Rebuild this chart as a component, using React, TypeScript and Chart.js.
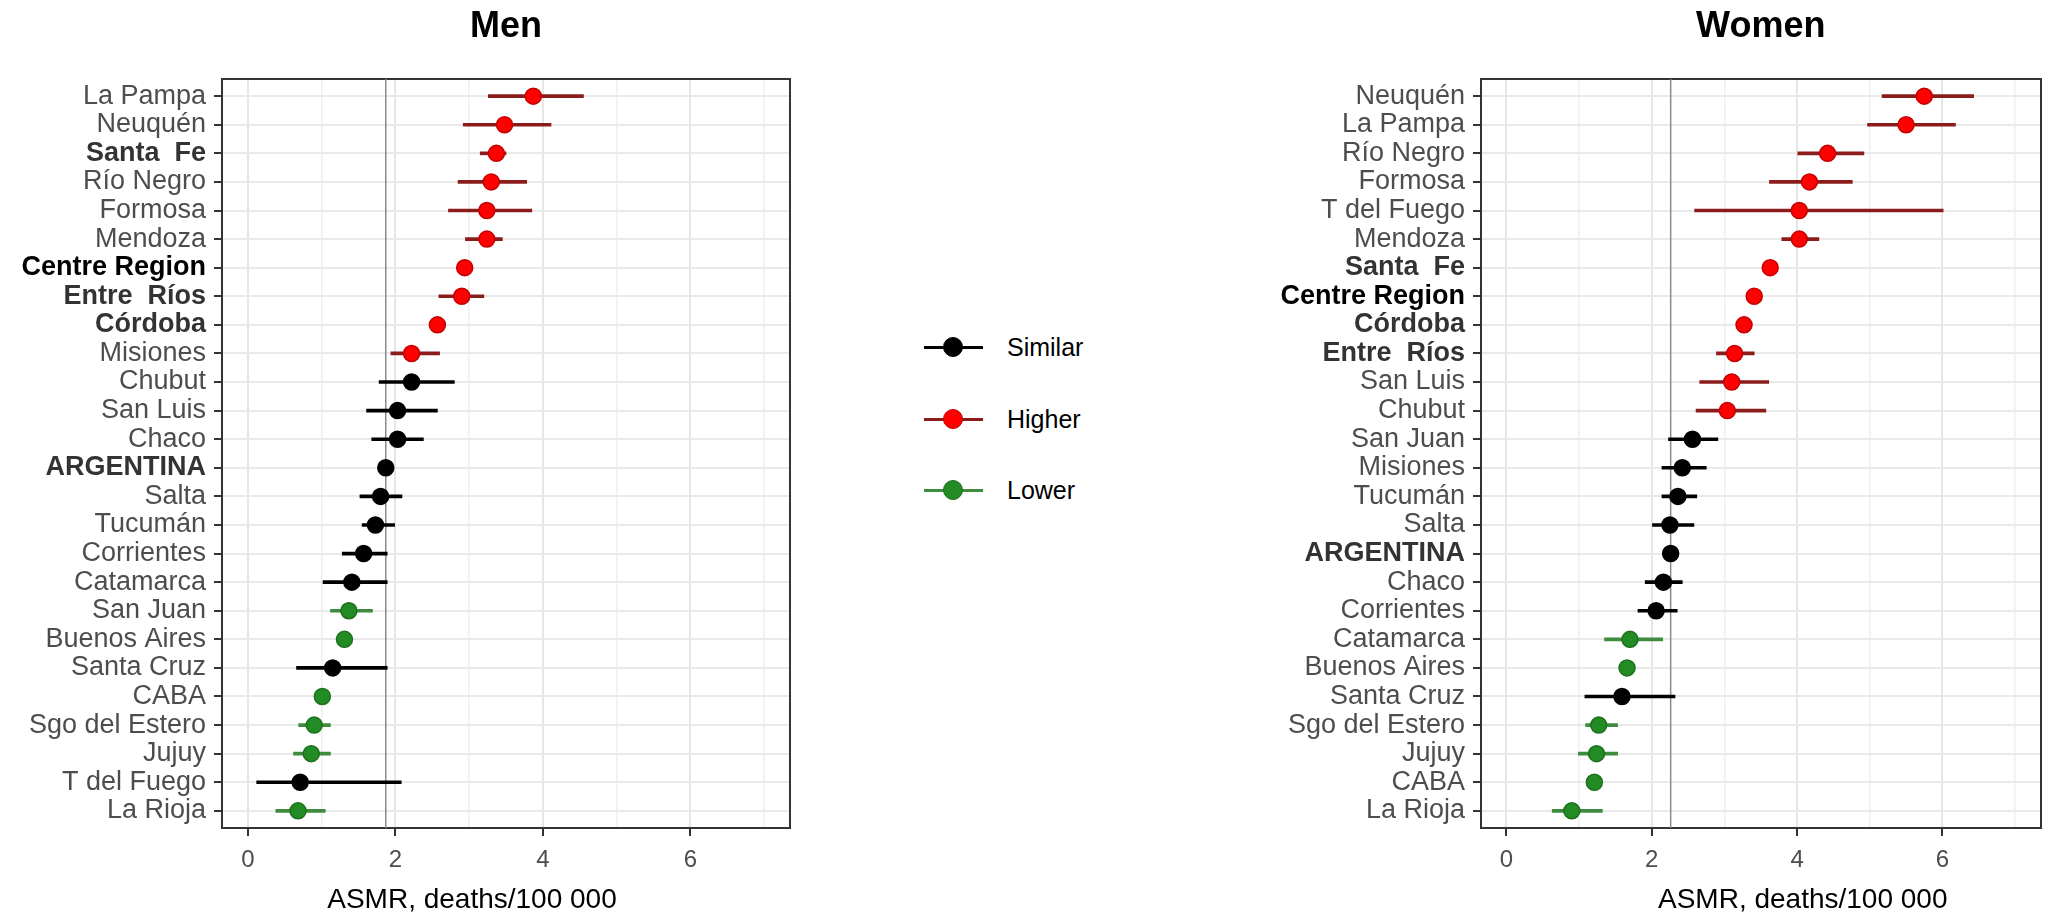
import { useEffect, useRef } from "react";
import { Chart, registerables, ChartConfiguration, Plugin } from "chart.js";

Chart.register(...registerables);

const FONT = '"Liberation Sans", Arial, Helvetica, sans-serif';

// ---- Men (top to bottom) ----
const menLabels = [
  "La Pampa", "Neuquén", "Santa  Fe", "Río Negro", "Formosa", "Mendoza",
  "Centre Region", "Entre  Ríos", "Córdoba", "Misiones", "Chubut", "San Luis",
  "Chaco", "ARGENTINA", "Salta", "Tucumán", "Corrientes", "Catamarca",
  "San Juan", "Buenos Aires", "Santa Cruz", "CABA", "Sgo del Estero", "Jujuy",
  "T del Fuego", "La Rioja",
];
const menValues = [
  3.87, 3.48, 3.37, 3.30, 3.24, 3.24, 2.94, 2.90, 2.57, 2.22, 2.22, 2.03, 2.03,
  1.87, 1.80, 1.73, 1.57, 1.41, 1.37, 1.31, 1.15, 1.01, 0.90, 0.86, 0.71, 0.68,
];
const menLower = [
  3.26, 2.92, 3.15, 2.85, 2.72, 2.95, 2.86, 2.59, 2.49, 1.94, 1.78, 1.61, 1.68,
  1.83, 1.52, 1.55, 1.28, 1.02, 1.12, 1.26, 0.66, 0.94, 0.69, 0.62, 0.12, 0.38,
];
const menUpper = [
  4.55, 4.11, 3.50, 3.78, 3.85, 3.45, 3.02, 3.20, 2.65, 2.60, 2.80, 2.57, 2.38,
  1.91, 2.09, 1.99, 1.89, 1.89, 1.69, 1.36, 1.89, 1.08, 1.12, 1.12, 2.08, 1.05,
];
const menStatus = [
  "H", "H", "H", "H", "H", "H", "H", "H", "H", "H", "S", "S", "S",
  "S", "S", "S", "S", "S", "L", "L", "S", "L", "L", "L", "S", "L",
];
const menReference = 1.87;

// ---- Women (top to bottom) ----
const womenLabels = [
  "Neuquén", "La Pampa", "Río Negro", "Formosa", "T del Fuego", "Mendoza",
  "Santa  Fe", "Centre Region", "Córdoba", "Entre  Ríos", "San Luis", "Chubut",
  "San Juan", "Misiones", "Tucumán", "Salta", "ARGENTINA", "Chaco",
  "Corrientes", "Catamarca", "Buenos Aires", "Santa Cruz", "Sgo del Estero",
  "Jujuy", "CABA", "La Rioja",
];
const womenValues = [
  5.75, 5.50, 4.42, 4.17, 4.03, 4.03, 3.63, 3.41, 3.27, 3.14, 3.10, 3.04, 2.56,
  2.42, 2.36, 2.25, 2.26, 2.16, 2.06, 1.70, 1.66, 1.59, 1.27, 1.24, 1.21, 0.90,
];
const womenLower = [
  5.17, 4.97, 4.01, 3.62, 2.59, 3.79, 3.56, 3.35, 3.20, 2.89, 2.66, 2.61, 2.23,
  2.14, 2.14, 2.01, 2.22, 1.91, 1.81, 1.35, 1.62, 1.08, 1.09, 0.99, 1.16, 0.63,
];
const womenUpper = [
  6.43, 6.18, 4.92, 4.76, 6.01, 4.30, 3.71, 3.47, 3.35, 3.41, 3.61, 3.57, 2.91,
  2.75, 2.62, 2.58, 2.30, 2.42, 2.35, 2.15, 1.70, 2.32, 1.53, 1.53, 1.26, 1.32,
];
const womenStatus = [
  "H", "H", "H", "H", "H", "H", "H", "H", "H", "H", "H", "H", "S",
  "S", "S", "S", "S", "S", "S", "L", "L", "S", "L", "L", "L", "L",
];
const womenReference = 2.26;

// ---- axes ----
const xGridValues = [0, 1, 2, 3, 4, 5, 6, 7];
const xTickLabels = ["0", "", "2", "", "4", "", "6", ""];
const xTitle = "ASMR, deaths/100 000";
const boldLabels = ["Santa  Fe", "Entre  Ríos", "Córdoba", "ARGENTINA", "Centre Region"];

// ---- legend ----
const legendKeys = ["S", "H", "L"];
const legendNames = ["Similar", "Higher", "Lower"];

const DOT: Record<string, string> = { S: "#000000", H: "#ff0000", L: "#238b23" };
const EDGE: Record<string, string> = { S: "#000000", H: "#c40000", L: "#1d701d" };
const BAR: Record<string, string> = { S: "#000000", H: "#8b1c1c", L: "#3f8c3f" };

const X_MIN = -0.35;
const X_MAX = 7.35;

// ggplot-like axis title, nudged relative to the panel centre
const xTitlePlugin: Plugin = {
  id: "xTitle",
  afterDraw(chart, _args, opts: any) {
    const { ctx, chartArea } = chart;
    ctx.save();
    ctx.font = `28px ${FONT}`;
    ctx.fillStyle = "#000";
    ctx.textAlign = "center";
    ctx.textBaseline = "middle";
    ctx.fillText(opts.text, (chartArea.left + chartArea.right) / 2 + opts.dx, opts.y);
    ctx.restore();
  },
};

interface PanelProps {
  title: string;
  labels: string[];
  values: number[];
  lower: number[];
  upper: number[];
  status: string[];
  reference: number;
  yAxisWidth: number;
  padRight: number;
  titleShift: number;
}

function ForestPanel(props: PanelProps) {
  const canvasRef = useRef<HTMLCanvasElement>(null);

  useEffect(() => {
    if (!canvasRef.current) return;
    const { labels, values, lower, upper, status, reference } = props;
    const yMin = -0.6;
    const yMax = labels.length - 0.4;

    const config: ChartConfiguration = {
      type: "bar",
      data: {
        datasets: [
          {
            type: "line",
            label: "ASMR",
            data: values.map((v, i) => ({ x: v, y: i })),
            showLine: false,
            pointRadius: 8,
            pointHoverRadius: 8,
            pointBorderWidth: 1.5,
            pointBackgroundColor: status.map((s) => DOT[s]),
            pointBorderColor: status.map((s) => EDGE[s]),
          } as any,
          {
            type: "bar",
            label: "95% CI",
            data: lower.map((lo, i) => ({ x: [lo, upper[i]], y: i })),
            backgroundColor: status.map((s) => BAR[s]),
            borderWidth: 0,
            barThickness: 3,
          } as any,
          {
            type: "line",
            label: "Argentina",
            data: [
              { x: reference, y: yMin },
              { x: reference, y: yMax },
            ],
            borderColor: "#8a8a8a",
            borderWidth: 1.5,
            pointRadius: 0,
          } as any,
        ],
      },
      options: {
        indexAxis: "y",
        animation: false,
        responsive: true,
        maintainAspectRatio: false,
        layout: { padding: { left: 0, right: props.padRight, top: 0, bottom: 0 } },
        plugins: {
          legend: { display: false },
          tooltip: { enabled: false },
          title: {
            display: true,
            text: props.title,
            fullSize: false,
            color: "#000",
            font: { family: FONT, size: 36, weight: "bold", lineHeight: 1 },
            padding: { top: 9, bottom: 34 },
          },
          xTitle: { text: xTitle, dx: props.titleShift, y: 900 },
        } as any,
        scales: {
          x: {
            type: "linear",
            position: "bottom",
            min: X_MIN,
            max: X_MAX,
            afterBuildTicks: (s: any) => {
              s.ticks = xGridValues.map((v) => ({ value: v }));
            },
            afterFit: (s: any) => {
              s.height = 91;
            },
            ticks: {
              autoSkip: false,
              padding: 10,
              color: "#4d4d4d",
              font: { family: FONT, size: 24 },
              callback: (v: any) => xTickLabels[xGridValues.indexOf(Number(v))] ?? "",
            },
            grid: {
              color: (c: any) => (c.tick && c.tick.value % 2 === 0 ? "#e6e6e6" : "#efefef"),
              lineWidth: (c: any) => (c.tick && c.tick.value % 2 === 0 ? 2 : 1.5),
              tickLength: 8,
              tickWidth: 2,
              tickColor: (c: any) => (c.tick && c.tick.value % 2 === 0 ? "#333333" : "rgba(0,0,0,0)"),
            },
            border: { display: true, color: "#333333", width: 2 },
          },
          xTop: {
            type: "linear",
            position: "top",
            min: X_MIN,
            max: X_MAX,
            ticks: { display: false },
            grid: { display: false, drawTicks: false },
            border: { display: true, color: "#333333", width: 2 },
            afterFit: (s: any) => {
              s.height = 0;
            },
          },
          y: {
            type: "linear",
            min: yMin,
            max: yMax,
            reverse: true,
            offset: false,
            afterBuildTicks: (s: any) => {
              s.ticks = labels.map((_, i) => ({ value: i }));
            },
            afterFit: (s: any) => {
              s.width = props.yAxisWidth;
            },
            ticks: {
              autoSkip: false,
              padding: 8,
              callback: (v: any) => labels[Number(v)] ?? "",
              color: (c: any) => {
                const lab = labels[c.index];
                if (lab === "Centre Region") return "#000000";
                return boldLabels.includes(lab) ? "#333333" : "#4d4d4d";
              },
              font: (c: any) => ({
                family: FONT,
                size: 27,
                weight: boldLabels.includes(labels[c.index]) ? "bold" : "normal",
              }),
            },
            grid: {
              offset: false,
              color: "#e9e9e9",
              lineWidth: 2,
              tickLength: 8,
              tickWidth: 2,
              tickColor: "#333333",
            },
            border: { display: true, color: "#333333", width: 2 },
          },
          yRight: {
            type: "linear",
            position: "right",
            min: yMin,
            max: yMax,
            ticks: { display: false },
            grid: { display: false, drawTicks: false },
            border: { display: true, color: "#333333", width: 2 },
            afterFit: (s: any) => {
              s.width = 0;
            },
          },
        } as any,
      },
      plugins: [xTitlePlugin],
    };

    const chart = new Chart(canvasRef.current, config);
    return () => {
      chart.destroy();
    };
  }, [props]);

  return <canvas ref={canvasRef}></canvas>;
}

function Legend() {
  return (
    <div style={{ position: "absolute", left: 924, top: 312, width: 200 }}>
      {legendKeys.map((k, i) => (
        <div
          key={k}
          style={{ position: "relative", height: 71.5, display: "flex", alignItems: "center" }}
        >
          <div style={{ position: "absolute", left: 0, top: 34, width: 59, height: 3, background: BAR[k] }} />
          <div
            style={{
              position: "absolute",
              left: 19,
              top: 25,
              width: 18,
              height: 18,
              borderRadius: "50%",
              background: DOT[k],
              border: `1.5px solid ${EDGE[k]}`,
            }}
          />
          <span
            style={{
              position: "absolute",
              left: 83,
              top: 20,
              fontFamily: FONT,
              fontSize: 25,
              lineHeight: "30px",
              color: "#000",
            }}
          >
            {legendNames[i]}
          </span>
        </div>
      ))}
    </div>
  );
}

const menProps: PanelProps = {
  title: "Men",
  labels: menLabels,
  values: menValues,
  lower: menLower,
  upper: menUpper,
  status: menStatus,
  reference: menReference,
  yAxisWidth: 222,
  padRight: 10,
  titleShift: -34,
};

const womenProps: PanelProps = {
  title: "Women",
  labels: womenLabels,
  values: womenValues,
  lower: womenLower,
  upper: womenUpper,
  status: womenStatus,
  reference: womenReference,
  yAxisWidth: 231,
  padRight: 6,
  titleShift: 42,
};

export default function App() {
  return (
    <div
      style={{
        position: "absolute",
        left: 0,
        top: 0,
        width: 2050,
        height: 919,
        background: "#fff",
        overflow: "hidden",
      }}
    >
      <div style={{ position: "absolute", left: 0, top: 0, width: 800, height: 919 }}>
        <ForestPanel {...menProps} />
      </div>
      <Legend />
      <div style={{ position: "absolute", left: 1250, top: 0, width: 800, height: 919 }}>
        <ForestPanel {...womenProps} />
      </div>
    </div>
  );
}
